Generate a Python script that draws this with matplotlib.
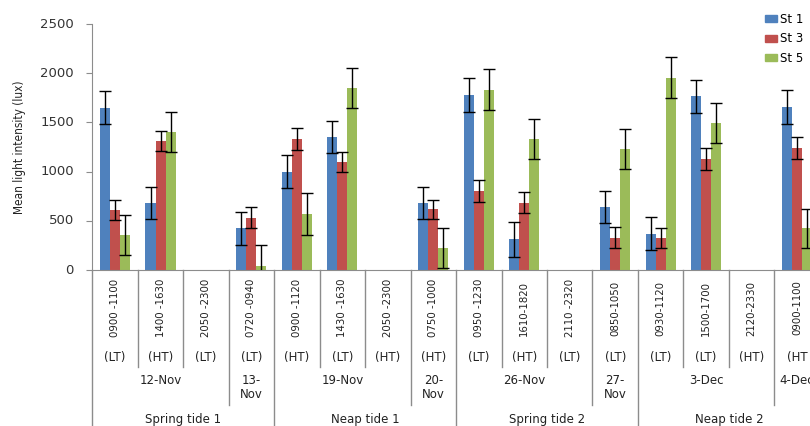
import numpy as np
import matplotlib
matplotlib.use("Agg")
import matplotlib.pyplot as plt
from matplotlib.patches import Patch
from matplotlib.lines import Line2D
import matplotlib.transforms as mtransforms

# 每个时段的采样数据（夜间时段无数据）
time_labels = ["0900 -1100", "1400 -1630", "2050 -2300", "0720 -0940",
               "0900 -1120", "1430 -1630", "2050 -2300", "0750 -1000",
               "0950 -1230", "1610-1820", "2110 -2320", "0850-1050",
               "0930-1120", "1500-1700", "2120-2330", "0900-1100"]
tide_labels = ["(LT)", "(HT)", "(LT)", "(LT)", "(HT)", "(LT)", "(HT)", "(HT)",
               "(LT)", "(HT)", "(LT)", "(LT)", "(LT)", "(LT)", "(HT)", "(HT"]
dates = ["12-Nov", "13-\nNov", "19-Nov", "20-\nNov", "26-Nov", "27-\nNov", "3-Dec", "4-Dec"]
date_spans = [(0, 2), (3, 3), (4, 6), (7, 7), (8, 10), (11, 11), (12, 14), (15, 15)]
tides = ["Spring tide 1", "Neap tide 1", "Spring tide 2", "Neap tide 2"]
tide_spans = [(0, 3), (4, 7), (8, 11), (12, 15)]
yticks = [0, 500, 1000, 1500, 2000, 2500]

nan = np.nan
st1 = [1650, 680, nan, 425, 1000, 1350, nan, 680, 1780, 310, nan, 640, 370, 1765, nan, 1655]
st1_err = [170, 165, 0, 168, 167, 162, 0, 165, 170, 175, 0, 165, 166, 166, 0, 170]
st3 = [610, 1310, nan, 532, 1330, 1095, nan, 616, 806, 684, nan, 328, 325, 1125, nan, 1240]
st3_err = [100, 105, 0, 105, 115, 100, 0, 100, 110, 105, 0, 105, 102, 110, 0, 108]
st5 = [356, 1402, nan, 44, 569, 1850, nan, 224, 1832, 1331, nan, 1230, 1954, 1494, nan, 424]
st5_err = [203, 205, 0, 207, 210, 205, 0, 200, 207, 200, 0, 200, 207, 206, 0, 200]

colors = ["#4F81BD", "#C0504D", "#9BBB59"]
grey = "#8C8C8C"
txt = "#222222"

W, H = 810, 426
fig = plt.figure(figsize=(W / 100, H / 100), dpi=100)
# 坐标轴右侧超出画布
ax_w = 16 * 45.47
ax = fig.add_axes([92.3 / W, 1 - 270 / H, ax_w / W, 246 / H])

x = np.arange(len(time_labels))
w = 0.22
for vals, errs, off, c in zip([st1, st3, st5], [st1_err, st3_err, st5_err], [-w, 0, w], colors):
    ax.bar(x + off, vals, width=w, color=c, zorder=2)
    ax.errorbar(x + off, vals, yerr=errs, fmt="none", ecolor="black",
                elinewidth=1, capsize=4, capthick=1, zorder=3)

ax.set_xlim(-0.5, len(time_labels) - 0.5)
ax.set_ylim(0, 2500)
ax.set_yticks(yticks)
ax.set_xticks([])
for s in ["top", "right"]:
    ax.spines[s].set_visible(False)
for s in ["left", "bottom"]:
    ax.spines[s].set_color(grey)
ax.tick_params(axis="y", direction="out", length=4, color=grey, labelleft=False)

# y 轴刻度文字
ty = mtransforms.blended_transform_factory(fig.transFigure, ax.transData)
for v in yticks:
    ax.text(74 / W, v, str(v), transform=ty, ha="right", va="center",
            fontsize=9.5, color="#333333", clip_on=False)

ax.set_ylabel("Mean light intensity (lux)", stretch="condensed", fontsize=8.5, color=txt)
ax.yaxis.set_label_coords((26 - 92.3) / ax_w, 0.5)

# x 轴下方的多级分类标签
tr = mtransforms.blended_transform_factory(ax.transData, fig.transFigure)
def fy(py):
    return 1 - py / H

for i, (t, lt) in enumerate(zip(time_labels, tide_labels)):
    ax.text(i, fy(308), t, transform=tr, rotation=90, ha="center", va="center",
            stretch="condensed", fontsize=8.2, color=txt, clip_on=False)
    ax.text(i, fy(358), lt, transform=tr, ha="center", va="center",
            fontsize=8.5, color=txt, clip_on=False)

for d, (a, b) in zip(dates, date_spans):
    ax.text((a + b) / 2, fy(387 if "\n" in d else 381), d, transform=tr,
            ha="center", va="center", fontsize=8.5, color=txt,
            linespacing=1.1, clip_on=False)

for t, (a, b) in zip(tides, tide_spans):
    ax.text((a + b) / 2, fy(419), t, transform=tr, ha="center", va="center",
            fontsize=8.5, color=txt, clip_on=False)

# 分隔线
tide_edges = {0, 4, 8, 12, 16}
date_edges = {3, 7, 11, 15}
for i in range(len(time_labels) + 1):
    bottom = 430 if i in tide_edges else (405 if i in date_edges else 367)
    fig.add_artist(Line2D([i - 0.5, i - 0.5], [fy(270), fy(bottom)], transform=tr,
                          color=grey, lw=1))

handles = [Patch(color=c) for c in colors]
fig.legend(handles, ["St 1", "St 3", "St 5"], loc="upper left",
           bbox_to_anchor=(765 / W, 1 - 13 / H), frameon=False, fontsize=8.5,
           handlelength=1.0, handleheight=0.5, handletextpad=0.3,
           labelspacing=0.55, borderpad=0, borderaxespad=0)

fig.savefig("out.png", dpi=100)
